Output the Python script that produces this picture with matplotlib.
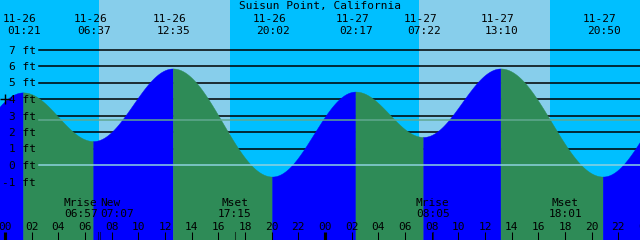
import numpy as np
import matplotlib
matplotlib.use('Agg')
import matplotlib.pyplot as plt
import matplotlib.transforms as mtransforms

# tide highs / lows (first and last are just outside the window)
tide_times = ['11-25 19:00', '11-26 01:21', '11-26 06:37', '11-26 12:35', '11-26 20:02',
              '11-27 02:17', '11-27 07:22', '11-27 13:10', '11-27 20:50', '11-28 03:10']
tide_heights = [-0.5, 4.4, 1.45, 5.85, -0.7, 4.45, 1.7, 5.85, -0.7, 4.5]
shown_events = tide_times[1:-1]

# daylight
sunrise = ['11-26 07:03', '11-27 07:03']
sunset = ['11-26 16:52', '11-27 16:52']

# moon events
moon_names = ['Mrise', 'New', 'Mset', 'Mrise', 'Mset']
moon_times = ['11-26 06:57', '11-26 07:07', '11-26 17:15', '11-27 08:05', '11-27 18:01']

ft_levels = [7, 6, 5, 4, 3, 2, 1, 0, -1]
mean_level = 2.73

title = 'Suisun Point, California'


def hours(s):
    d, hm = s.split(' ')
    day = int(d.split('-')[1]) - 26
    h, m = hm.split(':')
    return day * 24 + int(h) + int(m) / 60


W, H = 640, 240
PX_HR = 40 / 3.0
x0 = -5 / PX_HR
x1 = x0 + W / PX_HR
y_top = 165 / 16.5
y_bot = -(H - 165) / 16.5

night = '#00bfff'
day = '#87ceeb'
rise_col = '#0000ff'
fall_col = '#2e8b57'
font = 'DejaVu Sans Mono'
fs = 8

fig = plt.figure(figsize=(6.4, 2.4), dpi=100)
ax = fig.add_axes([0, 0, 1, 1])
ax.set_xlim(x0, x1)
ax.set_ylim(y_bot, y_top)
ax.axis('off')
ax.set_facecolor(night)
fig.patch.set_facecolor(night)
ax.add_patch(plt.Rectangle((0, 0), 1, 1, transform=ax.transAxes, color=night, zorder=0))

for sr, ss in zip(sunrise, sunset):
    ax.axvspan(hours(sr), hours(ss), color=day, lw=0, zorder=1)

xt = ax.get_xaxis_transform()
yt = ax.get_yaxis_transform()


def py(p):
    # pixel row -> axes fraction
    return 1 - p / H


# grid lines behind the water
lx = 39 / W
for lv in ft_levels:
    if lv >= 1:
        ax.plot([lx, 1], [lv, lv], transform=yt, color='black', lw=1.1, zorder=2)

# tide curve, filled by rising / falling
tt = [hours(s) for s in tide_times]
for i in range(len(tt) - 1):
    t0, t1 = tt[i], tt[i + 1]
    h0, h1 = tide_heights[i], tide_heights[i + 1]
    t = np.linspace(t0, t1, 200)
    h = h0 + (h1 - h0) * (1 - np.cos(np.pi * (t - t0) / (t1 - t0))) / 2
    col = rise_col if h1 > h0 else fall_col
    ax.fill_between(t, y_bot, h, color=col, lw=0.3, edgecolor=col, zorder=3)

# datum and mean lines on top
ax.plot([lx, 1], [0, 0], transform=yt, color='#8cd2e0', lw=1.1, zorder=4)
ax.plot([lx, 1], [mean_level, mean_level], transform=yt, color='#60a890', lw=1.1, zorder=4)

ax.plot([0], [4], marker='+', color='black', ms=7, mew=1.0, zorder=6)

# y labels
for lv in ft_levels:
    ax.text(36 / W, lv - 4 / 16.5, f'{lv} ft', transform=yt, ha='right', va='baseline',
            family=font, fontsize=fs, zorder=7)

# title and event labels
fig.text(0.5, py(9), title, ha='center', va='baseline', family=font, fontsize=fs)
for s in shown_events:
    x = hours(s)
    d, hm = s.split(' ')
    ax.text(x - 3 / PX_HR, py(22), d, transform=xt, ha='center', va='baseline',
            family=font, fontsize=fs, zorder=7)
    ax.text(x + 1 / PX_HR, py(34), hm, transform=xt, ha='center', va='baseline',
            family=font, fontsize=fs, zorder=7)

# hour ticks and labels
for hr in range(0, 50, 2):
    lw = 3 if hr % 24 == 0 else 1
    ax.plot([hr, hr], [0, 8 / H], transform=xt, color='black', lw=lw * 0.75,
            solid_capstyle='butt', zorder=6)
    ax.text(hr, py(230), f'{hr % 24:02d}', transform=xt, ha='center', va='baseline',
            family=font, fontsize=fs, zorder=7)

# moon events
for i, (name, s) in enumerate(zip(moon_names, moon_times)):
    x = hours(s)
    ax.plot([x, x], [0, 8 / H], transform=xt, color='black', lw=0.75, alpha=0.6, zorder=6)
    ha = 'center'
    if i + 1 < len(moon_times) and hours(moon_times[i + 1]) - x < 1:
        ha = 'right'
    elif i > 0 and x - hours(moon_times[i - 1]) < 1:
        ha = 'left'
    ax.text(x, py(206), name, transform=xt, ha=ha, va='baseline', family=font, fontsize=fs, zorder=7)
    ax.text(x, py(217), s.split(' ')[1], transform=xt, ha=ha, va='baseline',
            family=font, fontsize=fs, zorder=7)

fig.savefig('out.png', dpi=100)
